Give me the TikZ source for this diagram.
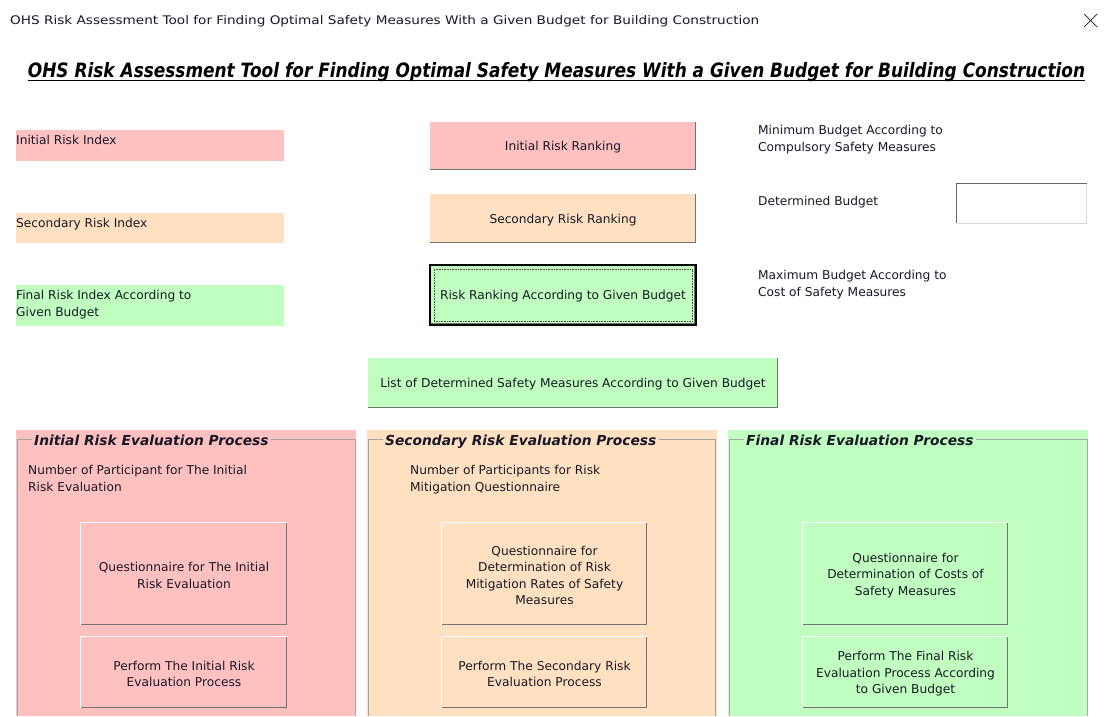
\documentclass[tikz,border=0pt]{standalone}
\usepackage{fontspec}
\setmainfont{DejaVu Sans}
\usetikzlibrary{fit}
\definecolor{pk}{RGB}{255,192,192}
\definecolor{pc}{RGB}{255,224,192}
\definecolor{gr}{RGB}{192,255,192}
\definecolor{txt}{RGB}{24,24,40}
\definecolor{frc}{RGB}{165,165,165}
\newcommand\fs{\fontsize{12.2}{16.6}\selectfont}
\newcommand\ftf{\fontsize{13.8}{15}\selectfont\bfseries\itshape}
\tikzset{
  lbl/.style={font=\fs, text=txt, inner sep=0pt, align=left, anchor=north west},
  fillbox/.style={fill=#1, inner sep=0pt, draw=none},
  btntxt/.style={inner sep=0pt, font=\fs, text=txt, align=center, yshift=-1.5pt},
  bvlight/.style={draw=white, line width=1pt},
  bvdark/.style={draw=black!55, line width=1.6pt},
  framec/.style={draw=frc, line width=0.9pt},
  ftitle/.style={font=\ftf, text=txt, inner sep=2pt, anchor=west, text height=13pt, text depth=2pt},
}
\newcommand\mkbtn[7]{%
  \node (#1) [fillbox=#6, fit={(#2,#3) (#4,#5)}] {};
  \node (#1t) [btntxt] at (#1.center) {#7};
  \draw[bvlight] (#1.south west) -- (#1.north west) -- (#1.north east);
  \draw[bvdark] ([yshift=0.8pt]#1.south west) -- ([xshift=-0.8pt,yshift=0.8pt]#1.south east) -- ([xshift=-0.8pt]#1.north east);
}
\begin{document}
\begin{tikzpicture}[x=1pt,y=-1pt]
\useasboundingbox[fill=white] (0,0) rectangle (1106,716);

% window title bar
\node (wt) [inner sep=0pt, anchor=base west, text=txt] at (10,24.5)
  {\resizebox{749pt}{9pt}{OHS Risk Assessment Tool for Finding Optimal Safety Measures With a Given Budget for Building Construction}};
\draw[txt, line width=0.7pt] (1084,14) -- (1097,27) (1084,27) -- (1097,14);

% main title
\node (mt) [inner sep=0pt, anchor=base, text=black, font=\bfseries\itshape] at (556.5,77)
  {\resizebox{1057pt}{15pt}{OHS Risk Assessment Tool for Finding Optimal Safety Measures With a Given Budget for Building Construction}};
\draw[black, line width=1.3pt] ([yshift=-3.5pt]mt.base west) -- ([yshift=-3.5pt]mt.base east);

% left index boxes
\node (irb) [fillbox=pk, fit={(16,130) (284,161)}] {};
\node (irl) [lbl] at (16,135.5) {Initial Risk Index};
\node (srb) [fillbox=pc, fit={(16,213) (284,243)}] {};
\node (srl) [lbl] at (16,218) {Secondary Risk Index};
\node (frb) [fillbox=gr, fit={(16,285) (284,326)}] {};
\node (frl) [lbl] at (16,290) {Final Risk Index According to\\Given Budget};

% ranking buttons
\mkbtn{irr}{430}{122}{696}{170}{pk}{Initial Risk Ranking}
\mkbtn{srr}{430}{194}{696}{243}{pc}{Secondary Risk Ranking}
\node (rrb) [fillbox=gr, fit={(430,265) (696,325)}] {};
\node (rrbt) [btntxt] at (rrb.center) {Risk Ranking According to Given Budget};
\draw[black, line width=1.6pt] (rrb.south west) rectangle (rrb.north east);
\draw[black!55, line width=1pt] ([shift={(1.5pt,1.5pt)}]rrb.south west) -- ([shift={(-1.5pt,1.5pt)}]rrb.south east) -- ([shift={(-1.5pt,-1.5pt)}]rrb.north east);
\draw[black!70, densely dotted, line width=0.6pt] ([shift={(4pt,-4pt)}]rrb.north west) rectangle ([shift={(-4pt,4pt)}]rrb.south east);
\mkbtn{lds}{368}{358}{778}{408}{gr}{List of Determined Safety Measures According to Given Budget}

% budget labels
\node (minb) [lbl] at (758,125.5) {Minimum Budget According to\\Compulsory Safety Measures};
\node (detb) [lbl] at (758,196.5) {Determined Budget};
\node (maxb) [lbl] at (758,270) {Maximum Budget According to\\Cost of Safety Measures};
\node (tbx) [fillbox=white, fit={(956,183) (1087,224)}] {};
\draw[black!60, line width=1.6pt] ([shift={(0.8pt,0.8pt)}]tbx.south west) -- ([shift={(0.8pt,-0.8pt)}]tbx.north west) -- ([shift={(0pt,-0.8pt)}]tbx.north east);
\draw[black!15, line width=1.4pt] ([shift={(0.8pt,0.7pt)}]tbx.south west) -- ([shift={(-0.7pt,0.7pt)}]tbx.south east) -- ([shift={(-0.7pt,-1.6pt)}]tbx.north east);

% process frames
\node (pf1) [fillbox=pk, fit={(16,430) (356,716)}] {};
\node (pf2) [fillbox=pc, fit={(367,430) (717,716)}] {};
\node (pf3) [fillbox=gr, fit={(728,430) (1088,716)}] {};

\node (t1) [ftitle] at (32,439.5) {Initial Risk Evaluation Process};
\node (t2) [ftitle] at (383,439.5) {Secondary Risk Evaluation Process};
\node (t3) [ftitle] at (744,439.5) {Final Risk Evaluation Process};
\draw[framec] (t1.west) -- (17,439.5) -- (17,716);
\draw[framec] (t1.east) -- (355,439.5) -- (355,716);
\draw[framec] (t2.west) -- (368,439.5) -- (368,716);
\draw[framec] (t2.east) -- (715,439.5) -- (715,716);
\draw[framec] (t3.west) -- (729,439.5) -- (729,716);
\draw[framec] (t3.east) -- (1087,439.5) -- (1087,716);

\node (np1) [lbl] at (28,465.5) {Number of Participant for The Initial\\Risk Evaluation};
\node (np2) [lbl] at (410,465.5) {Number of Participants for Risk\\Mitigation Questionnaire};

\mkbtn{q1}{81}{523}{287}{625}{pk}{Questionnaire for The Initial\\Risk Evaluation}
\mkbtn{p1}{81}{637}{287}{708}{pk}{Perform The Initial Risk\\Evaluation Process}
\mkbtn{q2}{442}{523}{647}{625}{pc}{Questionnaire for\\Determination of Risk\\Mitigation Rates of Safety\\Measures}
\mkbtn{p2}{442}{637}{647}{708}{pc}{Perform The Secondary Risk\\Evaluation Process}
\mkbtn{q3}{803}{523}{1008}{625}{gr}{Questionnaire for\\Determination of Costs of\\Safety Measures}
\mkbtn{p3}{803}{637}{1008}{708}{gr}{Perform The Final Risk\\Evaluation Process According\\to Given Budget}
\end{tikzpicture}
\end{document}
